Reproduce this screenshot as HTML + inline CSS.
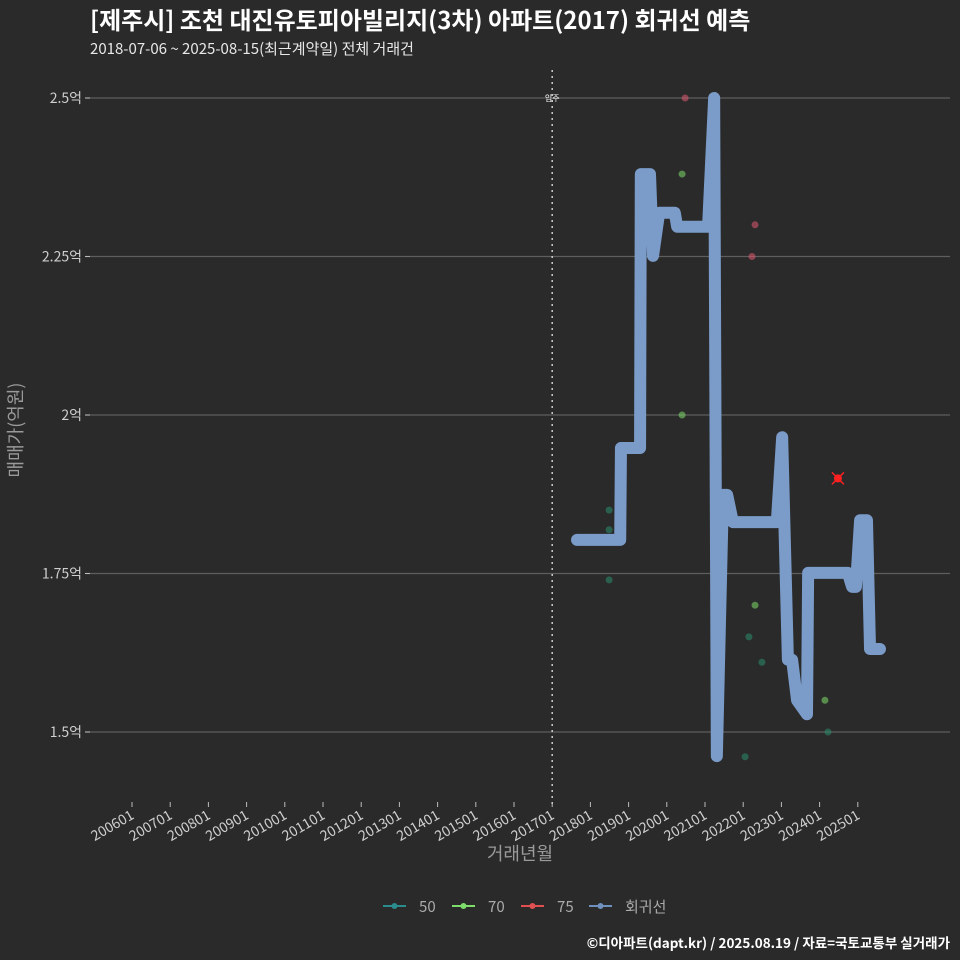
<!DOCTYPE html>
<html><head><meta charset="utf-8"><style>
body{margin:0;background:#2a2a2b;}
svg{display:block;font-family:"Noto Sans CJK KR","Liberation Sans",sans-serif;}
</style></head><body>
<svg id="chart" width="960" height="960" viewBox="0 0 960 960">
<rect width="960" height="960" fill="#2a2a2b"/>
<text x="90" y="29" fill="#ffffff" font-size="24" font-weight="bold">[제주시] 조천 대진유토피아빌리지(3차) 아파트(2017) 회귀선 예측</text>
<text x="90" y="54" fill="#e8e8e8" font-size="15">2018-07-06 ~ 2025-08-15(최근계약일) 전체 거래건</text>
<g id="grid"></g>
<g id="xaxis"></g>
<g id="marks"></g>
<text transform="translate(22,430) rotate(-90)" text-anchor="middle" fill="#9a9a9a" font-size="18">매매가(억원)</text>
<text x="520" y="860" text-anchor="middle" fill="#9a9a9a" font-size="18">거래년월</text>
<g font-size="15" fill="#aaaaaa">
<g><line x1="383" y1="906" x2="406" y2="906" stroke="#2a8c8c" stroke-width="2"/><circle cx="394.5" cy="906" r="3" fill="#2a8c8c"/><text x="419" y="912">50</text></g>
<g><line x1="452" y1="906" x2="475" y2="906" stroke="#7ddc6a" stroke-width="2"/><circle cx="463.5" cy="906" r="3" fill="#7ddc6a"/><text x="488" y="912">70</text></g>
<g><line x1="521" y1="906" x2="544" y2="906" stroke="#e05050" stroke-width="2"/><circle cx="532.5" cy="906" r="3" fill="#e05050"/><text x="557" y="912">75</text></g>
<g><line x1="589" y1="906" x2="612" y2="906" stroke="#6f8fbf" stroke-width="2"/><circle cx="600.5" cy="906" r="3" fill="#6f8fbf"/><text x="625" y="912">회귀선</text></g>
</g>
<text x="950" y="948" text-anchor="end" fill="#ffffff" font-size="13.5" font-weight="bold">©디아파트(dapt.kr) / 2025.08.19 / 자료=국토교통부 실거래가</text>
</svg>
<script>
const yTicks=[2.5,2.25,2.0,1.75,1.5];
const yTickLabels=["2.5억","2.25억","2억","1.75억","1.5억"];
const xTickYears=[2006,2007,2008,2009,2010,2011,2012,2013,2014,2015,2016,2017,2018,2019,2020,2021,2022,2023,2024,2025];
const xTickLabels=["200601","200701","200801","200901","201001","201101","201201","201301","201401","201501","201601","201701","201801","201901","202001","202101","202201","202301","202401","202501"];
const lineT=[2017.65,2018.78,2018.80,2019.30,2019.32,2019.56,2019.64,2019.80,2020.21,2020.27,2021.08,2021.24,2021.31,2021.47,2021.58,2021.73,2022.88,2023.02,2023.17,2023.28,2023.41,2023.67,2023.70,2024.74,2024.85,2024.95,2025.06,2025.24,2025.32,2025.58];
const lineV=[1.803,1.803,1.948,1.948,2.380,2.380,2.251,2.319,2.319,2.297,2.297,2.5,1.462,1.874,1.874,1.831,1.831,1.965,1.614,1.614,1.550,1.528,1.751,1.751,1.729,1.729,1.834,1.834,1.631,1.631];
const s50T=[2018.49,2018.49,2018.49,2022.05,2022.15,2022.49,2024.22];
const s50V=[1.850,1.819,1.740,1.461,1.650,1.610,1.500];
const s70T=[2020.40,2020.40,2022.31,2024.14];
const s70V=[2.38,2.0,1.70,1.55];
const s75T=[2020.48,2022.23,2022.31];
const s75V=[2.5,2.25,2.30];
const predT=[2024.48];
const predV=[1.90];
const refYear=2017;

const X=t=>132+(t-2006)*38.2;
const Y=v=>98+(2.5-v)*634;
const NS="http://www.w3.org/2000/svg";
function mk(tag,attrs,parent){const e=document.createElementNS(NS,tag);for(const k in attrs)e.setAttribute(k,attrs[k]);parent.appendChild(e);return e;}
const grid=document.getElementById('grid'),xa=document.getElementById('xaxis'),marks=document.getElementById('marks');
yTicks.forEach((v,i)=>{
  const l=mk('line',{x1:85,x2:950,y1:Y(v),y2:Y(v),stroke:'#5e5e5e','stroke-width':1.2},grid);
  
  
  const tk=mk('line',{x1:85,x2:90,y1:Y(v),y2:Y(v),stroke:'#bbb','stroke-width':1},grid);
  
  
  const t=mk('text',{x:82,y:Y(v)+5,'text-anchor':'end',fill:'#cfcfcf','font-size':14},grid);
  t.textContent=yTickLabels[i];
  
  
});
xTickYears.forEach((yr,i)=>{
  const x=X(yr);
  const tk=mk('line',{x1:x,x2:x,y1:802,y2:807,stroke:'#bbb','stroke-width':1},xa);
  
  
  const t=mk('text',{x:x+3,y:818,'text-anchor':'end',fill:'#cfcfcf','font-size':14,transform:`rotate(-30 ${x+3} 818)`},xa);
  t.textContent=xTickLabels[i];
  
  
});
const rl=mk('line',{x1:X(refYear),x2:X(refYear),y1:70,y2:805,stroke:'#cccccc','stroke-width':1.5,'stroke-dasharray':'2,4'},marks);


const rt=mk('text',{x:X(refYear),y:101,'text-anchor':'middle',fill:'#ffffff','font-size':8},marks);
rt.textContent='입주';


const pl=mk('polyline',{points:lineT.map((t,i)=>X(t)+','+Y(lineV[i])).join(' '),fill:'none',stroke:'#7b9cc9','stroke-width':12,'stroke-linejoin':'round','stroke-linecap':'round'},marks);


function pts(T,V,color,name){T.forEach((t,i)=>{const c=mk('circle',{cx:X(t),cy:Y(V[i]),r:3.5,fill:color,'fill-opacity':0.55},marks);
  
  });}
pts(s50T,s50V,'#2a8c6c','point-50');
pts(s70T,s70V,'#7ddc6a','point-70');
pts(s75T,s75V,'#e05a70','point-75');
predT.forEach((t,i)=>{const x=X(t),y=Y(predV[i]);
  const g=mk('g',{},marks);
  
  
  mk('circle',{cx:x,cy:y,r:4,fill:'#ff2020'},g);
  mk('path',{d:`M${x-6},${y-6}L${x+6},${y+6}M${x-6},${y+6}L${x+6},${y-6}`,stroke:'#ff2020','stroke-width':1.5},g);
});
</script>
</body></html>
